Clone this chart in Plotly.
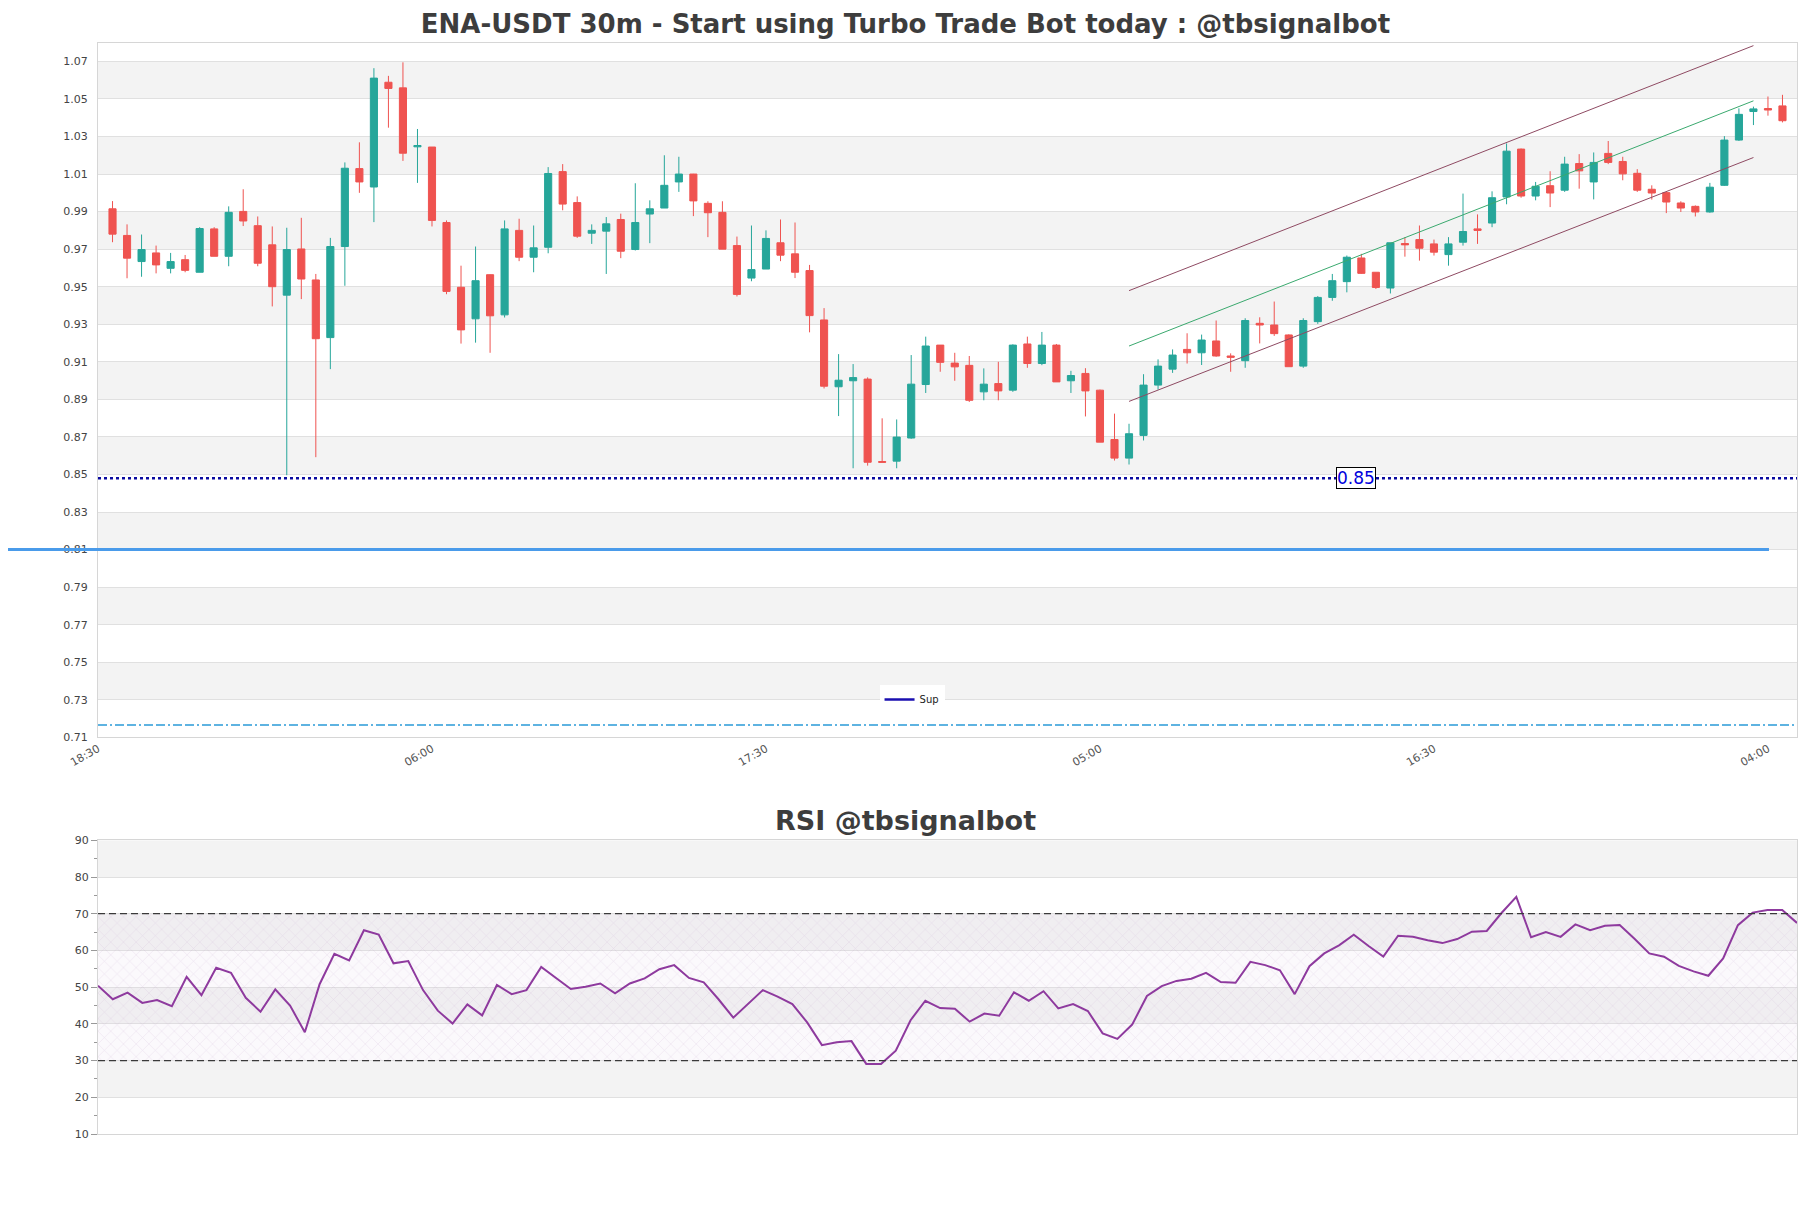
import plotly.graph_objects as go

# ---------------- data ----------------
tick_pos = [-1, 22, 45, 68, 91, 114]
tick_text = ['18:30', '06:00', '17:30', '05:00', '16:30', '04:00']

opens = [0.9915, 0.9773, 0.9634, 0.9680, 0.9598, 0.9644, 0.9577, 0.9808, 0.9662, 0.9901,
         0.9825, 0.9723, 0.9455, 0.9701, 0.9536, 0.9229, 0.9714, 1.0129, 1.0031, 1.0589,
         1.0559, 1.0245, 1.0244, 0.9842, 0.9497, 0.9329, 0.9564, 0.9350, 0.9800, 0.9657,
         0.9710, 1.0113, 0.9948, 0.9785, 0.9796, 0.9858, 0.9698, 0.9887, 0.9919, 1.0058,
         1.0100, 0.9944, 0.9896, 0.9719, 0.9546, 0.9594, 0.9734, 0.9675, 0.9586, 0.9323,
         0.8967, 0.8999, 0.9008, 0.8569, 0.8571, 0.8694, 0.8979, 0.9189, 0.9093, 0.9081,
         0.8940, 0.8984, 0.8949, 0.9195, 0.9091, 0.9189, 0.8999, 0.9038, 0.8949, 0.8686,
         0.8587, 0.8708, 0.8976, 0.9061, 0.9166, 0.9148, 0.9211, 0.9131, 0.9106, 0.9305,
         0.9296, 0.9243, 0.9077, 0.9314, 0.9443, 0.9527, 0.9653, 0.9577, 0.9493, 0.9730,
         0.9751, 0.9728, 0.9671, 0.9737, 0.9808, 0.9839, 0.9978, 1.0233, 0.9983, 1.0038,
         1.0014, 1.0156, 1.0058, 1.0210, 1.0167, 1.0104, 1.0019, 1.0001, 0.9946, 0.9928,
         0.9898, 1.0040, 1.0281, 1.0433, 1.0449, 1.0463]
highs = [0.9956, 0.9832, 0.9778, 0.9719, 0.9680, 0.9669, 0.9817, 0.9817, 0.9928, 1.0019,
         0.9874, 0.9821, 0.9814, 0.9867, 0.9568, 0.9760, 1.0162, 1.0269, 1.0664, 1.0623,
         1.0695, 1.0340, 1.0244, 0.9853, 0.9612, 0.9714, 0.9565, 0.9853, 0.9862, 0.9826,
         1.0137, 1.0153, 0.9981, 0.9832, 0.9871, 0.9889, 1.0051, 0.9960, 1.0200, 1.0192,
         1.0101, 0.9955, 0.9955, 0.9767, 0.9826, 0.9800, 0.9858, 0.9842, 0.9616, 0.9386,
         0.9141, 0.9088, 0.9017, 0.8799, 0.8793, 0.9136, 0.9234, 0.9189, 0.9148, 0.9131,
         0.9065, 0.9100, 0.9193, 0.9234, 0.9259, 0.9195, 0.9052, 0.9066, 0.8952, 0.8824,
         0.8770, 0.9034, 0.9113, 0.9166, 0.9252, 0.9245, 0.9320, 0.9145, 0.9332, 0.9337,
         0.9421, 0.9246, 0.9332, 0.9450, 0.9568, 0.9666, 0.9675, 0.9577, 0.9734, 0.9764,
         0.9826, 0.9751, 0.9764, 0.9996, 0.9885, 1.0008, 1.0263, 1.0236, 1.0058, 1.0115,
         1.0192, 1.0206, 1.0215, 1.0276, 1.0192, 1.0126, 1.0040, 1.0005, 0.9955, 0.9933,
         1.0053, 1.0302, 1.0450, 1.0459, 1.0513, 1.0522]
lows = [0.9737, 0.9545, 0.9553, 0.9571, 0.9571, 0.9577, 0.9577, 0.9662, 0.9609, 0.9823,
        0.9609, 0.9395, 0.8496, 0.9434, 0.8592, 0.9061, 0.9505, 1.0000, 0.9844, 1.0347,
        1.0170, 1.0053, 0.9821, 0.9460, 0.9197, 0.9202, 0.9148, 0.9336, 0.9636, 0.9577,
        0.9678, 0.9907, 0.9760, 0.9728, 0.9568, 0.9652, 0.9693, 0.9732, 0.9919, 1.0005,
        0.9876, 0.9764, 0.9700, 0.9448, 0.9529, 0.9594, 0.9636, 0.9546, 0.9257, 0.8958,
        0.8811, 0.8533, 0.8547, 0.8565, 0.8533, 0.8690, 0.8934, 0.9047, 0.8999, 0.8886,
        0.8895, 0.8895, 0.8940, 0.9068, 0.9082, 0.8993, 0.8934, 0.8809, 0.8672, 0.8574,
        0.8553, 0.8681, 0.8952, 0.9041, 0.9091, 0.9083, 0.9127, 0.9047, 0.9068, 0.9198,
        0.9238, 0.9074, 0.9068, 0.9302, 0.9425, 0.9470, 0.9568, 0.9488, 0.9464, 0.9660,
        0.9639, 0.9666, 0.9612, 0.9719, 0.9728, 0.9817, 0.9939, 0.9974, 0.9960, 0.9924,
        1.0005, 1.0022, 0.9965, 1.0153, 1.0067, 1.0005, 0.9964, 0.9892, 0.9898, 0.9874,
        0.9894, 1.0037, 1.0276, 1.0361, 1.0411, 1.0375]
closes = [0.9780, 0.9652, 0.9698, 0.9616, 0.9634, 0.9587, 0.9810, 0.9662, 0.9896, 0.9850,
          0.9625, 0.9500, 0.9698, 0.9541, 0.9223, 0.9714, 1.0131, 1.0058, 1.0611, 1.0556,
          1.0211, 1.0252, 0.9853, 0.9475, 0.9270, 0.9532, 0.9345, 0.9808, 0.9657, 0.9707,
          1.0103, 0.9940, 0.9769, 0.9800, 0.9835, 0.9689, 0.9842, 0.9915, 1.0040, 1.0100,
          0.9957, 0.9894, 0.9700, 0.9459, 0.9591, 0.9757, 0.9668, 0.9577, 0.9346, 0.8970,
          0.9002, 0.9016, 0.8565, 0.8565, 0.8699, 0.8981, 0.9184, 0.9097, 0.9073, 0.8895,
          0.8981, 0.8945, 0.9189, 0.9091, 0.9189, 0.8993, 0.9027, 0.8945, 0.8672, 0.8587,
          0.8717, 0.8976, 0.9077, 0.9136, 0.9148, 0.9216, 0.9131, 0.9124, 0.9320, 0.9296,
          0.9250, 0.9074, 0.9320, 0.9443, 0.9532, 0.9657, 0.9571, 0.9496, 0.9734, 0.9723,
          0.9705, 0.9684, 0.9728, 0.9794, 0.9800, 0.9974, 1.0222, 0.9983, 1.0035, 0.9999,
          1.0153, 1.0117, 1.0162, 1.0162, 1.0101, 1.0014, 0.9999, 0.9951, 0.9919, 0.9898,
          1.0030, 1.0281, 1.0418, 1.0447, 1.0441, 1.0384]

rsi = [50.4, 46.7, 48.5, 45.7, 46.5, 44.8, 52.8, 47.8, 55.3, 53.9,
       47.1, 43.3, 49.4, 45.0, 37.7, 50.8, 59.1, 57.3, 65.5, 64.3,
       56.5, 57.1, 49.2, 43.6, 40.1, 45.3, 42.3, 50.6, 48.1, 49.2,
       55.5, 52.4, 49.5, 50.1, 51.0, 48.3, 51.0, 52.4, 54.9, 56.0,
       52.5, 51.3, 46.7, 41.7, 45.4, 49.2, 47.4, 45.4, 40.4, 34.2,
       35.0, 35.3, 29.1, 29.1, 32.7, 41.0, 46.3, 44.3, 44.1, 40.6,
       42.8, 42.2, 48.6, 46.3, 48.9, 44.2, 45.4, 43.5, 37.4, 35.9,
       39.8, 47.6, 50.3, 51.7, 52.3, 53.9, 51.4, 51.2, 56.9, 56.0,
       54.6, 48.1, 55.7, 59.2, 61.4, 64.3, 61.2, 58.3, 64.0, 63.7,
       62.8, 62.0, 63.1, 65.1, 65.3, 70.2, 74.6, 63.6, 65.0, 63.7,
       67.1, 65.5, 66.7, 66.9, 63.2, 59.2, 58.3, 55.8, 54.3, 53.1,
       57.8, 66.9, 70.3, 71.0, 71.0, 67.5]

price_ticks = [0.71, 0.73, 0.75, 0.77, 0.79, 0.81, 0.83, 0.85, 0.87, 0.89,
               0.91, 0.93, 0.95, 0.97, 0.99, 1.01, 1.03, 1.05, 1.07]
price_tick_text = ['0.71', '0.73', '0.75', '0.77', '0.79', '0.81', '0.83', '0.85', '0.87', '0.89',
                   '0.91', '0.93', '0.95', '0.97', '0.99', '1.01', '1.03', '1.05', '1.07']
rsi_ticks = [10, 20, 30, 40, 50, 60, 70, 80, 90]

sup_level = 0.848
sup_label = '0.85'
blue_level = 0.81
dash_level = 0.7165
chan_x = [70, 113]
chan_mid = [0.9184, 1.0490]
chan_up = [0.9479, 1.0784]
chan_lo = [0.8889, 1.0188]
rsi_low, rsi_high = 30, 70

# ---------------- figure ----------------
n = len(closes)
idx = list(range(n))
x_range = [-1, n]
rsi_range_x = [0, n - 1]

FONT = 'DejaVu Sans'
fig = go.Figure()

fig.add_trace(go.Candlestick(
    x=idx, open=opens, high=highs, low=lows, close=closes,
    increasing=dict(line=dict(color='#26a69a', width=1), fillcolor='#26a69a'),
    decreasing=dict(line=dict(color='#ef5350', width=1), fillcolor='#ef5350'),
    whiskerwidth=0, showlegend=False, xaxis='x', yaxis='y', hoverinfo='skip'))

for ys, col in [(chan_up, '#8e4a62'), (chan_lo, '#8e4a62'), (chan_mid, '#3aa96e')]:
    fig.add_trace(go.Scatter(x=chan_x, y=ys, mode='lines', line=dict(color=col, width=1),
                             showlegend=False, xaxis='x', yaxis='y', hoverinfo='skip'))

fig.add_trace(go.Scatter(x=x_range, y=[sup_level, sup_level], mode='lines', name='Sup',
                         line=dict(color='#0a0aa0', width=2.5, dash='dot'),
                         showlegend=False, xaxis='x', yaxis='y', hoverinfo='skip'))
# legend entry for the support line (solid sample as in the original legend)
fig.add_trace(go.Scatter(x=[None], y=[None], mode='lines', name='Sup',
                         line=dict(color='#1a0fb0', width=2.5),
                         showlegend=True, xaxis='x', yaxis='y', hoverinfo='skip'))

# RSI hatch zone
fig.add_trace(go.Scatter(
    x=[rsi_range_x[0], rsi_range_x[1], rsi_range_x[1], rsi_range_x[0], rsi_range_x[0]],
    y=[rsi_low, rsi_low, rsi_high, rsi_high, rsi_low],
    mode='lines', line=dict(width=0), fill='toself',
    fillcolor='rgba(225,205,232,0.15)',
    fillpattern=dict(shape='x', fgcolor='rgba(175,140,195,0.45)', bgcolor='rgba(225,205,232,0.12)',
                     size=9, solidity=0.12, fillmode='overlay'),
    showlegend=False, xaxis='x2', yaxis='y2', hoverinfo='skip'))

fig.add_trace(go.Scatter(x=list(range(len(rsi))), y=rsi, mode='lines',
                         line=dict(color='#8e3a9e', width=2), showlegend=False,
                         xaxis='x2', yaxis='y2', hoverinfo='skip'))

shapes = []
band_col = '#f3f3f3'
for i in range(0, len(price_ticks) - 1):
    if i % 2 == 1:
        shapes.append(dict(type='rect', xref='x domain', yref='y', x0=0, x1=1,
                           y0=price_ticks[i], y1=price_ticks[i + 1],
                           fillcolor=band_col, line=dict(width=0), layer='below'))
for i in range(0, len(rsi_ticks) - 1):
    if i % 2 == 1:
        shapes.append(dict(type='rect', xref='x2 domain', yref='y2', x0=0, x1=1,
                           y0=rsi_ticks[i], y1=rsi_ticks[i + 1],
                           fillcolor=band_col, line=dict(width=0), layer='below'))
# light-blue level line (extends into the left margin)
shapes.append(dict(type='line', xref='paper', yref='y', x0=-0.0536, x1=0.9835,
                   y0=blue_level, y1=blue_level, line=dict(color='#4a9bea', width=3)))
# dashed lower level
shapes.append(dict(type='line', xref='x domain', yref='y', x0=0, x1=1,
                   y0=dash_level, y1=dash_level,
                   line=dict(color='#2a9ad8', width=1.5, dash='9px,3px,2px,3px,9px,3px')))
# RSI 30/70 dashed lines
for lv in (rsi_low, rsi_high):
    shapes.append(dict(type='line', xref='x2 domain', yref='y2', x0=0, x1=1, y0=lv, y1=lv,
                       line=dict(color='#3a3a3a', width=1.3, dash='7px,4px')))

annotations = [
    dict(x=85.6, y=sup_level, xref='x', yref='y', text=sup_label, showarrow=False,
         font=dict(family=FONT, size=17, color='#0000dd'), bgcolor='white',
         bordercolor='black', borderwidth=1, borderpad=0),
    dict(x=0.4753, y=0.2878, xref='paper', yref='paper', text='<b>RSI @tbsignalbot</b>',
         showarrow=False, xanchor='center', yanchor='middle',
         font=dict(family=FONT, size=27, color='#3d3d3d')),
]

axis_common = dict(showline=True, mirror=True, linecolor='#d6d6d6', linewidth=1, zeroline=False)

# page body adds an 8px margin around the figure, so the figure is sized to fit inside it
fig.update_layout(
    width=1795, height=1192,
    margin=dict(l=90, r=6, t=35, b=66),
    paper_bgcolor='white', plot_bgcolor='white',
    font=dict(family=FONT, color='#444'),
    title=dict(text='<b>ENA-USDT 30m - Start using Turbo Trade Bot today : @tbsignalbot</b>',
               x=0.5, xanchor='center', xref='container', y=0.9868, yanchor='middle',
               font=dict(family=FONT, size=26, color='#3d3d3d')),
    xaxis=dict(domain=[0, 1], anchor='y', range=x_range, tickmode='array',
               tickvals=tick_pos, ticktext=tick_text, tickangle=-30, showgrid=False,
               ticks='', tickfont=dict(size=11, color='#555'),
               rangeslider=dict(visible=False), **axis_common),
    yaxis=dict(domain=[0.3636, 1], anchor='x', range=[0.71, 1.0798], tickmode='array',
               tickvals=price_ticks, ticktext=price_tick_text, showgrid=True,
               gridcolor='#e0e0e0', gridwidth=1, ticks='outside', ticklen=7,
               tickcolor='rgba(0,0,0,0)', tickfont=dict(size=11, color='#444'), **axis_common),
    xaxis2=dict(domain=[0, 1], anchor='y2', range=rsi_range_x, showticklabels=False,
                showgrid=False, ticks='', **axis_common),
    yaxis2=dict(domain=[0, 0.2692], anchor='x2', range=[10, 90], tickmode='array',
                tickvals=rsi_ticks, showgrid=True, gridcolor='#e0e0e0', ticks='outside',
                ticklen=6, tickcolor='#999', tickfont=dict(size=11, color='#444'),
                minor=dict(dtick=5, tick0=5, ticks='outside', ticklen=3, tickcolor='#999',
                           showgrid=False), **axis_common),
    shapes=shapes, annotations=annotations,
    showlegend=True,
    legend=dict(x=0.46, y=0.4115, xanchor='left', yanchor='top', bgcolor='white',
                font=dict(family=FONT, size=10, color='#222'), itemwidth=30,
                borderwidth=0),
    hovermode=False,
)

fig.write_html('out.html')
